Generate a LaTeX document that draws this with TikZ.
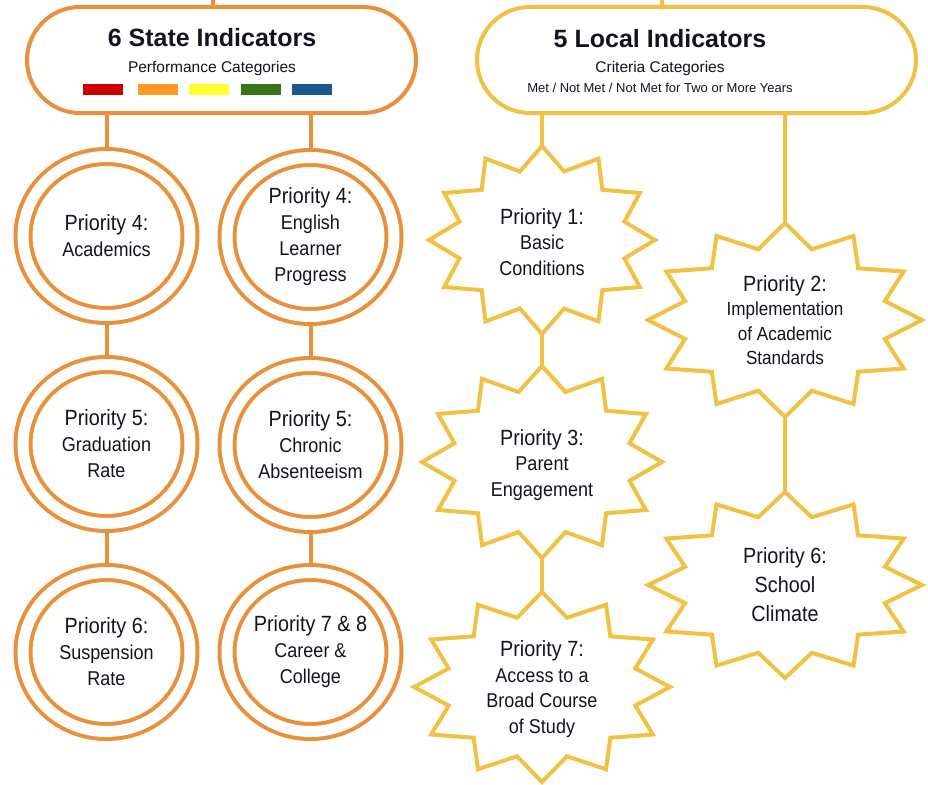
\documentclass[tikz,border=0pt]{standalone}
\usepackage{fontspec}
\setmainfont{Liberation Sans}
\newfontfamily\narrowfont[FakeStretch=0.9]{Liberation Sans}
\usetikzlibrary{shapes.geometric,backgrounds}
\definecolor{ora}{HTML}{E8913A}
\definecolor{yel}{HTML}{F1C143}
\definecolor{txt}{HTML}{141420}
\definecolor{barred}{HTML}{CC0000}
\definecolor{barora}{HTML}{FF9A22}
\definecolor{baryel}{HTML}{FFFF33}
\definecolor{bargrn}{HTML}{38761D}
\definecolor{barblu}{HTML}{1B5592}
\tikzset{
  hdr/.style={draw, line width=4pt, rounded corners=53pt, minimum height=106pt, fill=white, inner sep=0pt},
  ring/.style={ellipse, draw=ora, line width=4pt, double=white, double distance=11pt, fill=white,
    minimum width=167pt, minimum height=159pt, inner sep=0pt, align=center, text=txt,
    font=\narrowfont\fontsize{20}{26}\selectfont},
  lbl/.style={align=center, text=txt, inner sep=0pt, font=\narrowfont\fontsize{20}{25.5}\selectfont},
  burst/.style={draw=yel, line width=4pt, fill=white, line join=miter},
  oconn/.style={draw=ora, line width=4pt},
  yconn/.style={draw=yel, line width=4pt},
  title/.style={anchor=base, text=txt, font=\bfseries\fontsize{25}{30}\selectfont},
  subtitle/.style={anchor=base, text=txt, font=\fontsize{15.5}{18}\selectfont},
}
\newcommand\prio[1]{{\fontsize{22}{26}\selectfont #1}}
\newcommand\burstshape[4]{%
  \begin{scope}[shift={(#1,#2)}]
    \draw[burst] (0:{#3} and {#4})
      \foreach \i [evaluate=\i as \rx using {(mod(\i,2)==0?1:0.755)*#3},
                   evaluate=\i as \ry using {(mod(\i,2)==0?1:0.755)*#4}] in {1,...,23}
        { -- ({\i*15}:{\rx} and {\ry}) } -- cycle;
  \end{scope}}
\begin{document}
\begin{tikzpicture}[x=1pt,y=-1pt]
\useasboundingbox (0,0) rectangle (928,784);

% headers
\node[hdr, draw=ora, minimum width=389pt] (h1) at (221.5,60) {};
\node[hdr, draw=yel, minimum width=439pt] (h2) at (696.5,60) {};
\coordinate (top1) at (213,0);
\coordinate (top2) at (662,0);

\node[title] (t1) at (212,47) {6 State Indicators};
\node[subtitle] (t1b) at (212,72) {Performance Categories};
\fill[barred] (83,84) rectangle (123,95);
\fill[barora] (138,84) rectangle (178,95);
\fill[baryel] (189,84) rectangle (229,95);
\fill[bargrn] (241,84) rectangle (281,95);
\fill[barblu] (292,84) rectangle (332,95);

\node[title] (t2) at (660,48) {5 Local Indicators};
\node[subtitle] (t2b) at (660,72) {Criteria Categories};
\node[anchor=base, text=txt, font=\fontsize{13}{15}\selectfont] (t2c) at (660,92) {Met / Not Met / Not Met for Two or More Years};

% state indicator rings
\node[ring] (c11) at (106.5,236) {\prio{Priority 4:}\\Academics};
\node[ring] (c12) at (106.5,444) {\prio{Priority 5:}\\Graduation\\Rate};
\node[ring] (c13) at (106.5,652) {\prio{Priority 6:}\\Suspension\\Rate};
\node[ring] (c21) at (310.5,237) {\prio{Priority 4:}\\English\\Learner\\Progress};
\node[ring] (c22) at (310.5,445) {\prio{Priority 5:}\\Chronic\\Absenteeism};
\node[ring] (c23) at (310.5,652) {\prio{Priority 7 \& 8}\\Career \&\\College};

% local indicator bursts
\burstshape{542}{240}{113}{94}
\burstshape{542}{462}{120}{96}
\burstshape{542}{687}{128}{95}
\burstshape{785}{320}{137}{97}
\burstshape{785}{585}{137}{93}

\node[lbl] (s1) at (542,242) {\prio{Priority 1:}\\Basic\\Conditions};
\node[lbl] (s3) at (542,465) {\prio{Priority 3:}\\Parent\\Engagement};
\node[lbl] (s7) at (542,689) {\prio{Priority 7:}\\Access to a\\Broad Course\\of Study};
\node[lbl, font=\narrowfont\fontsize{19}{24.5}\selectfont] (s2) at (785,320) {\prio{Priority 2:}\\Implementation\\of Academic\\Standards};
\node[lbl, font=\narrowfont\fontsize{22}{29}\selectfont] (s6) at (785,585) {Priority 6:\\School\\Climate};

\begin{pgfonlayer}{background}
  \fill[white] (0,0) rectangle (928,784);
  \draw[oconn] (top1) -- (top1 |- h1.center);
  \draw[oconn] (c11 |- h1.center) -- (c11);
  \draw[oconn] (c11) -- (c12);
  \draw[oconn] (c12) -- (c13);
  \draw[oconn] (c21 |- h1.center) -- (c21);
  \draw[oconn] (c21) -- (c22);
  \draw[oconn] (c22) -- (c23);
  \draw[yconn] (top2) -- (top2 |- h2.center);
  \draw[yconn] (s1 |- h2.center) -- (s1);
  \draw[yconn] (s1) -- (s3);
  \draw[yconn] (s3) -- (s7);
  \draw[yconn] (s2 |- h2.center) -- (s2);
  \draw[yconn] (s2) -- (s6);
\end{pgfonlayer}
\end{tikzpicture}
\end{document}
